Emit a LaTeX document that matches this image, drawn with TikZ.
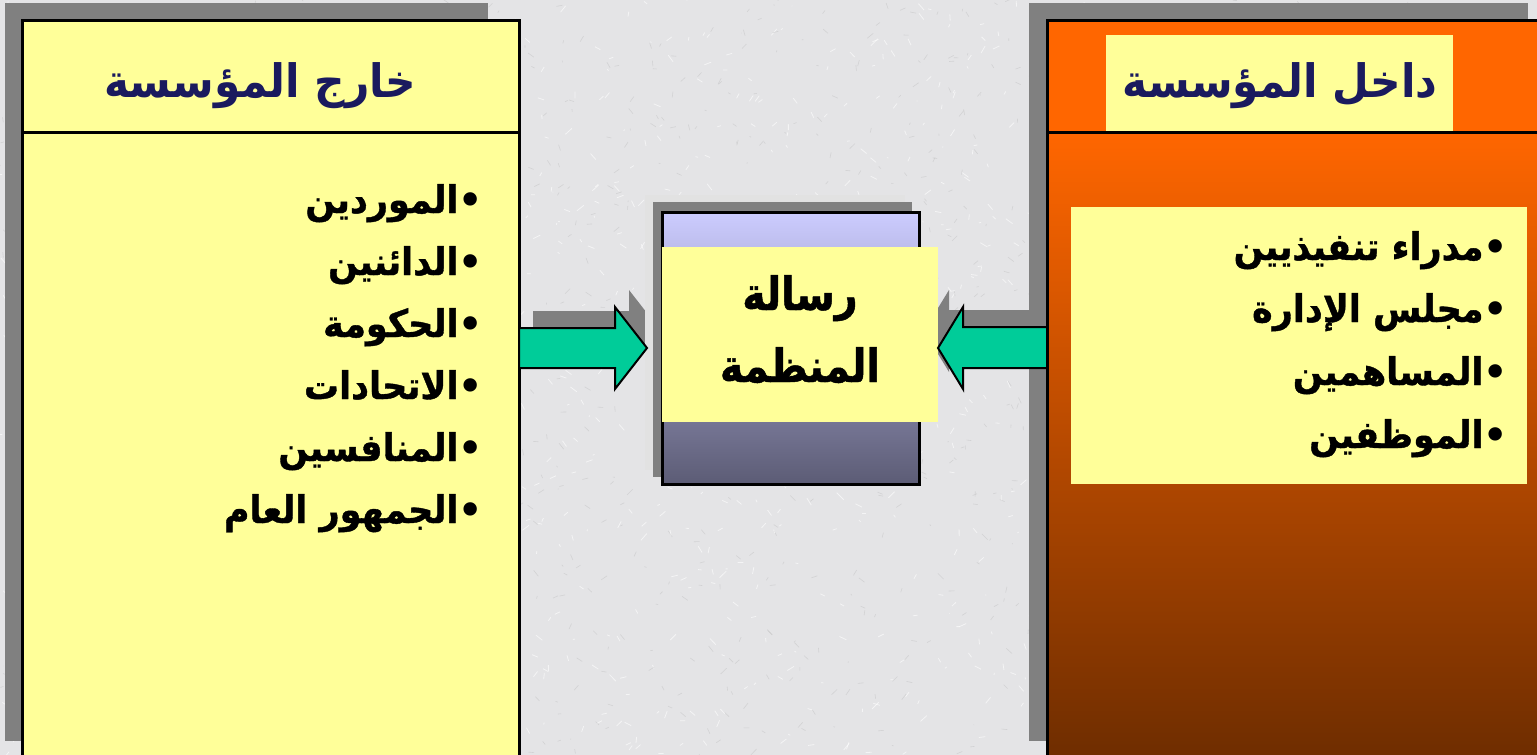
\documentclass[tikz,border=0pt]{standalone}
\usepackage{fontspec}
\newfontfamily\arabictitle[Script=Arabic,FakeStretch=0.92]{DejaVu Sans}
\newfontfamily\arabicitem[Script=Arabic,FakeStretch=0.92,FakeBold=1]{DejaVu Sans}
\newfontfamily\arabiccenter[Script=Arabic,FakeStretch=0.86,FakeBold=1]{DejaVu Sans}
\newfontfamily\bulletfont{DejaVu Sans}
\TeXXeTstate=1
\definecolor{bgc}{HTML}{E4E4E6}
\definecolor{shadowgray}{HTML}{808080}
\definecolor{lightstrip}{HTML}{E2E2E2}
\definecolor{paleyellow}{HTML}{FFFF99}
\definecolor{orangetop}{HTML}{FF6600}
\definecolor{brownbottom}{HTML}{6E2D00}
\definecolor{lavender}{HTML}{CCCCFF}
\definecolor{slate}{HTML}{5C5C75}
\definecolor{arrowgreen}{HTML}{00CC99}
\definecolor{navy}{HTML}{1A1A5E}
\tikzset{
  boxline/.style={line width=3pt, black},
  titletext/.style={font=\arabictitle\bfseries\fontsize{46}{54}\selectfont, text=navy, inner sep=0pt},
  itemtext/.style={font=\arabicitem\bfseries\fontsize{38}{44}\selectfont, text=black, inner sep=0pt, anchor=base east},
  centertext/.style={font=\arabiccenter\bfseries\fontsize{46}{54}\selectfont, text=black, inner sep=0pt, anchor=base},
  blockarrow/.style={fill=arrowgreen, draw=black, line width=2pt, line join=miter},
  arrowshadow/.style={fill=shadowgray},
}
\newcommand{\arline}[1]{\beginR{\bulletfont\textbullet}#1\endR}
\begin{document}
\begin{tikzpicture}[x=1pt,y=-1pt]
\useasboundingbox (0,0) rectangle (1537,755);
% background with light texture
\fill[bgc] (0,0) rectangle (1537,755);
\pgfmathsetseed{11}
\foreach \i in {1,...,1400}{
  \draw[white, opacity=0.6, line width=0.8pt] ({rnd*1537},{rnd*755}) -- ++({rand*7},{rand*7});
  \draw[gray!55, opacity=0.4, line width=0.6pt] ({rnd*1537},{rnd*755}) -- ++({rand*6},{rand*6});
}

% ---------- left box (outside the organisation)
\fill[shadowgray] (5,3) rectangle (488,741);
\fill[paleyellow] (22,20) rectangle (519,760);
\draw[boxline] (22,760) -- (22,20) -- (519,20) -- (519,760);
\draw[boxline] (22,132) -- (519,132);
\node[titletext, anchor=base] (ltitle) at (260,97) {\beginR خارج المؤسسة\endR};
\node[itemtext] (l1) at (483,213) {\arline{الموردين}};
\node[itemtext] (l2) at (483,275) {\arline{الدائنين}};
\node[itemtext] (l3) at (483,337) {\arline{الحكومة}};
\node[itemtext] (l4) at (483,399) {\arline{الاتحادات}};
\node[itemtext] (l5) at (483,461) {\arline{المنافسين}};
\node[itemtext] (l6) at (483,523) {\arline{الجمهور العام}};

% ---------- right box (inside the organisation)
\fill[shadowgray] (1029,3) rectangle (1528,741);
\fill[orangetop] (1047,20) rectangle (1540,132);
\shade[top color=orangetop, bottom color=brownbottom] (1047,132) rectangle (1540,760);
\fill[paleyellow] (1106,35) rectangle (1453,132);
\draw[boxline] (1047,760) -- (1047,20) -- (1540,20);
\draw[boxline] (1047,132) -- (1540,132);
\fill[paleyellow] (1071,207) rectangle (1527,484);
\node[titletext, anchor=base] (rtitle) at (1280,97) {\beginR داخل المؤسسة\endR};
\node[itemtext] (r1) at (1508,260) {\arline{مدراء تنفيذيين}};
\node[itemtext] (r2) at (1508,322) {\arline{مجلس الإدارة}};
\node[itemtext] (r3) at (1508,385) {\arline{المساهمين}};
\node[itemtext] (r4) at (1508,448) {\arline{الموظفين}};

% ---------- arrow shadows
\fill[arrowshadow] (533,311) -- (629,311) -- (629,290) -- (661,331) -- (629,372) -- (629,351) -- (533,351) -- cycle;
\fill[arrowshadow] (1033,310) -- (949,310) -- (949,290) -- (924,331) -- (949,372) -- (949,351) -- (1033,351) -- cycle;

% ---------- centre box (mission)
\fill[lightstrip] (645,195) rectangle (905,470);
\fill[shadowgray] (653,202) rectangle (912,477);
\shade[top color=lavender, bottom color=slate] (662,212) rectangle (919,484);
\draw[boxline] (662,212) rectangle (919,484);
\fill[paleyellow] (662,247) rectangle (938,422);
\node[centertext] (m1) at (800,310) {\beginR رسالة\endR};
\node[centertext] (m2) at (800,382) {\beginR المنظمة\endR};

% ---------- block arrows
\draw[blockarrow] (519,328) -- (615,328) -- (615,307) -- (647,348) -- (615,389) -- (615,368) -- (519,368) -- cycle;
\draw[blockarrow] (1047,327) -- (963,327) -- (963,307) -- (938,348) -- (963,389) -- (963,368) -- (1047,368) -- cycle;
\end{tikzpicture}
\end{document}
